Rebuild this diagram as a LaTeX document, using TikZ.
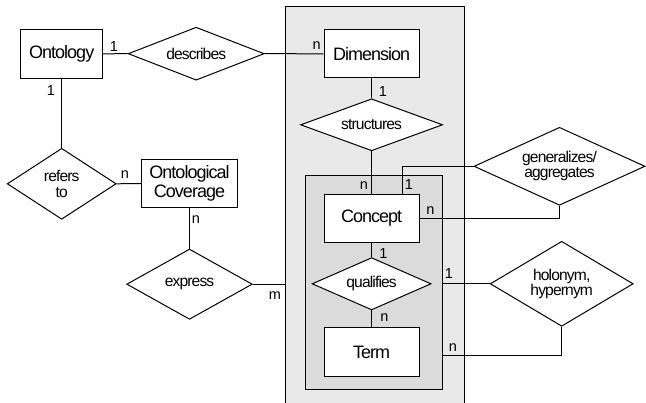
\documentclass[tikz,border=0pt]{standalone}
\usepackage{fontspec}
\setmainfont{Liberation Sans}[LetterSpace=-5.5]
\usetikzlibrary{shapes.geometric}
\definecolor{outerfill}{RGB}{233,233,233}
\definecolor{innerfill}{RGB}{219,219,219}
\tikzset{
  entity/.style={draw, fill=white, rectangle, inner sep=0pt,
    minimum width=95pt, minimum height=48pt, align=center,
    font=\fontsize{18}{19.5}\selectfont},
  relation/.style={draw, fill=white, diamond, inner sep=0pt, aspect=2,
    align=center, font=\fontsize{15.6}{15.3}\selectfont},
  card/.style={inner sep=0pt, font=\fontsize{14.5}{15}\selectfont},
  group/.style={draw, rectangle, inner sep=0pt},
}
\begin{document}
\begin{tikzpicture}[x=1pt, y=-1pt, line width=1pt]
\useasboundingbox (0,0) rectangle (646,403);
\fill[white] (0,0) rectangle (646,403);

% grouping boxes: domain (open at the bottom edge) and concept layer
\node[group, fill=outerfill, minimum width=179pt, minimum height=398pt] (domain) at (374.5,206) {};
\node[group, fill=innerfill, minimum width=137pt, minimum height=213.3pt] (layer) at (374.2,282.65) {};

% entities
\node[entity, minimum width=82pt, minimum height=49pt] (ontology) at (61.7,53.8) {Ontology};
\node[entity, minimum height=47.7pt] (dimension) at (371.6,53.8) {Dimension};
\node[entity] (concept) at (371.6,218.3) {Concept};
\node[entity, minimum height=49pt] (term) at (371.6,352.2) {Term};
\node[entity, minimum width=95.6pt, minimum height=48.4pt] (coverage) at (189.5,183.5) {Ontological\\Coverage};

% relationships
\node[relation, minimum width=136pt, minimum height=53pt] (describes) at (196.2,53.7) {describes};
\node[relation, minimum width=142pt, minimum height=52pt] (structures) at (371.6,124.8) {structures};
\node[relation, minimum width=119pt, minimum height=52.3pt] (qualifies) at (371.6,283.8) {qualifies};
\node[relation, minimum width=171pt, minimum height=78pt] (generalizes) at (559.5,166.3) {generalizes/\\aggregates};
\node[relation, minimum width=143pt, minimum height=85pt] (holonym) at (561.7,283.8) {holonym,\\hypernym};
\node[relation, minimum width=109pt, minimum height=71pt] (refers) at (61.7,183.8) {refers\\to};
\node[relation, minimum width=125.6pt, minimum height=70.3pt] (express) at (189.5,284.2) {express};

% connectors
\draw (ontology.east) -- (describes.west);
\draw (describes.east) -- (dimension.west);
\draw (dimension.south) -- (structures.north);
\draw (structures.south) -- (concept.north);
\draw (concept.south) -- (qualifies.north);
\draw (qualifies.south) -- (term.north);
\draw (ontology.south) -- (refers.north);
\draw (refers.east) -- (coverage.west);
\draw (coverage.south) -- (express.north);
\draw (express.east) -- (express.east -| domain.west);
\draw ([xshift=30.8pt]concept.north) |- (generalizes.west);
\draw (generalizes.south) |- (concept.east);
\draw (holonym.west) -- (holonym.west -| layer.east);
\draw (holonym.south) |- ([yshift=-3.5pt]term.east -| layer.east);

% cardinalities
\node[card] (c1) at (114,46.3) {1};
\node[card] (c2) at (316.7,45.8) {n};
\node[card] (c3) at (383,92) {1};
\node[card] (c4) at (364,185.3) {n};
\node[card] (c5) at (409,185) {1};
\node[card] (c6) at (430.3,210.3) {n};
\node[card] (c7) at (383.5,254) {1};
\node[card] (c8) at (384.3,317.8) {n};
\node[card] (c9) at (449,274) {1};
\node[card] (c10) at (453,347.2) {n};
\node[card] (c11) at (50.8,91) {1};
\node[card] (c12) at (125,174.5) {n};
\node[card] (c13) at (196,219.5) {n};
\node[card] (c14) at (275,295.5) {m};
\end{tikzpicture}
\end{document}
